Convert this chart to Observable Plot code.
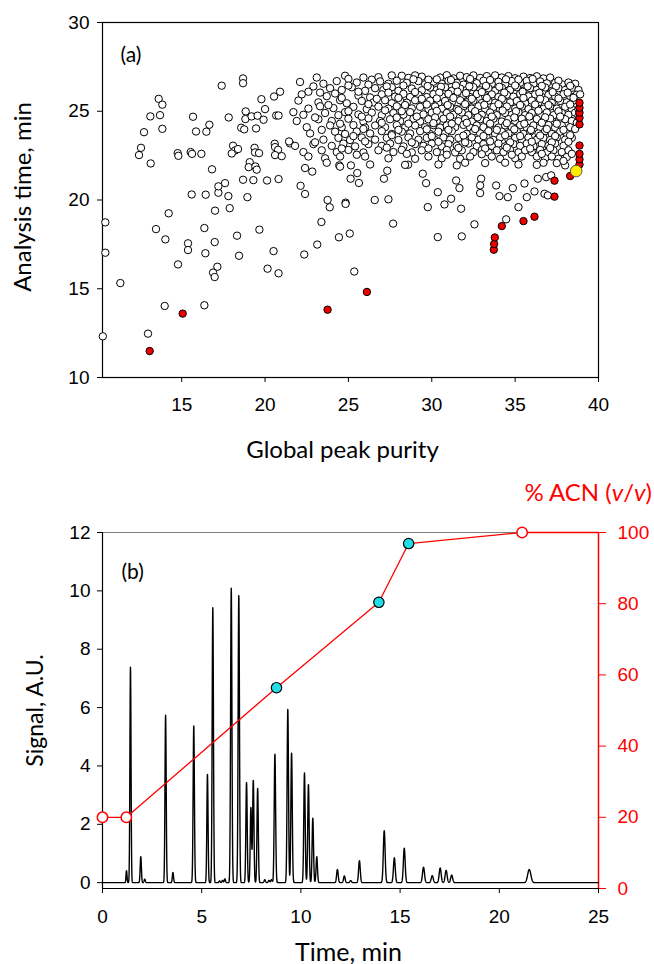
<!DOCTYPE html>
<html><head><meta charset="utf-8">
<script src="https://cdn.jsdelivr.net/npm/d3@7"></script>
<script src="https://cdn.jsdelivr.net/npm/@observablehq/plot@0.6"></script>
<style>body{margin:0;background:#fff;} #wrap{width:654px;} svg{display:block;}</style>
</head><body><div id="wrap"></div>
<script>
// ---------- Panel (a): global peak purity vs analysis time ----------
const sparseLeft = [
[15.6,20.31],[16.44,20.3],[17.2,20.41],[17.8,20.22],[18.94,20.16],[14.22,19.25],[17.0,19.4],[17.88,19.54],[10.42,18.74],[13.46,18.36],[16.36,18.42],[19.66,18.33],[14.02,17.78],[15.38,17.56],[15.38,17.18],[16.98,17.63],[18.32,17.99],[10.42,17.03],[16.42,17.0],[18.44,16.86],[20.51,17.12],[14.78,16.37],[17.14,16.24],[16.88,15.91],[16.98,15.66],[20.15,16.13],[20.81,15.87],[11.32,15.32],[13.98,14.03],[16.36,14.07],[12.98,12.47],[10.27,12.32],
[17.4,26.44],[18.68,26.85],[18.68,26.58],[20.9,26.1],[20.54,25.83],[13.62,25.7],[13.84,25.37],[19.78,25.68],[20.0,25.12],[13.12,24.71],[13.7,24.78],[15.68,24.69],[18.84,24.99],[18.82,24.56],[19.19,24.71],[19.55,24.75],[19.91,24.52],[20.67,24.76],[20.81,24.76],[21.7,24.95],[17.82,24.65],[16.66,24.24],[16.48,23.85],[15.86,23.86],[12.74,23.82],[13.84,24.01],[18.57,24.07],[18.75,23.98],[19.46,24.03],[21.49,23.19],[21.44,23.3],[12.56,22.94],[12.44,22.53],[13.14,22.06],[14.76,22.64],[14.8,22.49],[15.54,22.7],[15.62,22.6],[16.18,22.6],[18.08,23.06],[18.2,22.79],[18.0,22.62],[18.38,22.87],[19.37,22.94],[19.4,22.68],[19.64,22.64],[20.58,23.17],[20.6,22.98],[20.78,22.83],[20.6,22.53],[21.0,22.47],[19.08,22.13],[19.02,21.85],[19.42,21.89],[19.5,21.71],[16.82,21.73],[18.68,21.14],[19.3,21.12],[20.12,21.1],[20.81,21.18],[17.2,20.77],[17.6,20.95]
];
const sparseMid = [
[22.13,20.8],[22.4,20.34],[22.35,16.93],[23.75,20.0],[23.88,19.59],[23.38,18.76],[23.13,17.49],[24.83,19.85],[24.83,19.78],[25.08,18.11],[24.43,17.9],[25.35,15.97],[25.63,20.96],[25.53,21.52],[25.15,21.95],[25.13,21.2],[24.45,21.95],[24.5,21.88],[26.58,20.0],[27.4,20.04],[27.68,18.67],[27.13,21.2],[27.33,21.65],[28.58,21.99],[22.4,21.8],[22.83,21.6],
[29.46,21.48],[29.66,20.95],[30.36,20.44],[29.76,19.6],[30.76,19.75],[31.16,20.07],[31.76,19.51],[31.46,21.1],[31.66,20.67],[32.56,18.63],[30.36,17.91],[31.8,17.95],[32.96,21.2],[32.9,20.82],[32.9,20.39],[33.86,20.82],[34.06,20.22],[34.46,18.91],[34.56,20.16],[34.86,20.67],[35.2,19.6],[35.56,20.93],[35.7,20.16],[36.16,20.48],[36.76,20.35],[36.96,20.26],[36.36,21.2],[36.86,21.29],[37.16,21.39]
];
const denseTop = [
[23.1,26.9],[24.8,27.0],[25.0,26.82],[25.9,26.9],[26.4,26.78],[26.8,26.92],[27.6,27.02],[28.2,27.0],[28.6,26.88],[29.0,27.02],[29.4,26.95],[30.5,26.9],[30.9,27.03],[31.3,26.85],[31.7,27.0],[32.1,26.92],[32.5,27.02],[32.9,26.88],[33.3,26.98],[33.8,27.02],[34.2,26.9],[34.6,26.98],[35.0,26.86],[35.5,26.95],[35.9,26.87],[36.3,26.97],[36.7,26.85],[37.1,26.9],
[22.1,26.65],[23.5,26.55],[24.3,26.7],[25.5,26.62],[26.2,26.5],[26.9,26.68],[27.4,26.55],[27.9,26.72],[28.5,26.6],[29.2,26.7],[29.6,26.52],[30.1,26.66],[30.6,26.55],[31.0,26.72],[31.5,26.6],[31.9,26.5],[32.3,26.68],[32.7,26.58],[33.1,26.72],[33.6,26.55],[34.0,26.66],[34.4,26.52],[34.8,26.7],[35.3,26.6],[35.7,26.72],[36.1,26.55],[36.5,26.68],[36.9,26.57],[37.4,26.6],[37.8,26.52],[38.2,26.62],[38.6,26.55],
[22.6,26.1],[23.9,26.3],[24.6,26.2],[25.2,26.35],[26.0,26.15],[26.6,26.3],[27.1,26.2],[27.6,26.35],[28.0,26.15],[28.8,26.28],[29.4,26.18],[29.9,26.33],[30.3,26.2],[30.8,26.35],[31.2,26.15],[31.7,26.28],[32.1,26.2],[32.5,26.36],[32.9,26.18],[33.4,26.3],[33.8,26.15],[34.2,26.32],[34.7,26.2],[35.1,26.35],[35.5,26.16],[35.9,26.3],[36.3,26.2],[36.8,26.34],[37.2,26.15],[37.6,26.3],[38.0,26.2],[38.4,26.32],[38.8,26.2],
[22.2,25.95],[23.7,25.85],[24.2,26.0],[25.6,25.88],[26.3,25.78],[27.0,25.95],[27.8,25.82],[28.3,25.98],[28.7,25.8],[29.2,25.92],[29.7,25.8],[30.1,25.96],[30.6,25.84],[31.0,25.98],[31.4,25.82],[31.9,25.92],[32.3,25.8],[32.7,25.97],[33.2,25.85],[33.6,25.95],[34.0,25.8],[34.5,25.93],[34.9,25.82],[35.3,25.98],[35.8,25.84],[36.2,25.95],[36.6,25.8],[37.0,25.92],[37.4,25.83],[37.9,25.96],[38.3,25.84],[38.7,25.93],
[22.0,25.6],[23.2,25.5],[24.5,25.62],[24.9,25.45],[25.8,25.58],[26.5,25.5],[27.2,25.62],[27.6,25.45],[28.1,25.58],[28.5,25.48],[29.0,25.62],[29.5,25.5],[29.9,25.6],[30.4,25.45],[30.8,25.58],[31.2,25.48],[31.7,25.62],[32.1,25.5],[32.5,25.6],[33.0,25.46],[33.4,25.6],[33.8,25.48],[34.3,25.62],[34.7,25.5],[35.1,25.58],[35.6,25.45],[36.0,25.6],[36.4,25.5],[36.8,25.62],[37.2,25.47],[37.7,25.58],[38.1,25.5],[38.5,25.6],
[22.6,25.15],[23.3,25.28],[24.1,25.18],[25.3,25.25],[26.1,25.12],[26.8,25.26],[27.4,25.15],[27.9,25.28],[28.8,25.16],[29.3,25.25],[29.8,25.12],[30.2,25.27],[30.6,25.14],[31.1,25.26],[31.5,25.12],[31.9,25.25],[32.4,25.15],[32.8,25.28],[33.2,25.14],[33.7,25.24],[34.1,25.12],[34.5,25.27],[35.0,25.15],[35.4,25.26],[35.8,25.12],[36.2,25.25],[36.7,25.14],[37.1,25.27],[37.5,25.15],[38.0,25.25],[38.4,25.12]
];
const denseBottom = [
[22.3,24.8],[23.6,24.9],[24.4,24.78],[24.8,24.95],[25.6,24.82],[26.4,24.92],[27.0,24.78],[27.7,24.9],[28.3,24.8],[28.7,24.95],[29.5,24.82],[30.0,24.92],[30.5,24.78],[30.9,24.9],[31.3,24.8],[31.8,24.93],[32.2,24.78],[32.6,24.9],[33.0,24.8],[33.5,24.93],[33.9,24.78],[34.4,24.9],[34.8,24.8],[35.2,24.94],[35.6,24.78],[36.0,24.9],[36.5,24.8],[36.9,24.93],[37.3,24.78],[37.8,24.9],[38.2,24.8],[38.6,24.92],
[21.9,24.45],[23.2,24.55],[24.0,24.45],[25.0,24.58],[25.9,24.42],[26.2,24.6],[26.9,24.45],[27.5,24.55],[28.1,24.44],[28.9,24.58],[29.3,24.42],[29.8,24.55],[30.3,24.45],[30.7,24.58],[31.6,24.44],[32.0,24.56],[32.4,24.42],[32.9,24.55],[33.3,24.45],[33.7,24.58],[34.2,24.42],[34.6,24.55],[35.0,24.45],[35.4,24.58],[35.9,24.42],[36.3,24.56],[36.7,24.45],[37.1,24.58],[37.6,24.44],[38.0,24.55],[38.4,24.45],
[22.5,24.1],[23.9,24.2],[24.6,24.1],[25.3,24.22],[26.0,24.08],[26.6,24.2],[27.2,24.1],[27.9,24.22],[28.4,24.08],[29.0,24.2],[29.6,24.1],[30.1,24.22],[30.5,24.08],[30.9,24.2],[31.4,24.1],[31.9,24.23],[32.3,24.08],[32.7,24.2],[33.1,24.1],[33.5,24.22],[34.0,24.08],[34.4,24.2],[34.8,24.1],[35.3,24.22],[35.7,24.08],[36.1,24.2],[36.5,24.1],[37.0,24.22],[37.4,24.08],[37.8,24.2],[38.3,24.1],
[22.7,23.75],[24.2,23.85],[24.8,23.72],[25.5,23.86],[26.3,23.75],[27.0,23.88],[27.6,23.72],[28.2,23.85],[28.7,23.75],[29.3,23.88],[29.9,23.72],[30.4,23.85],[30.8,23.75],[31.2,23.88],[32.1,23.72],[32.5,23.85],[32.9,23.75],[33.4,23.88],[33.8,23.72],[34.2,23.85],[34.6,23.75],[35.1,23.88],[35.5,23.72],[35.9,23.85],[36.4,23.75],[36.8,23.88],[37.2,23.72],[37.7,23.85],[38.1,23.75],
[23.5,23.4],[24.4,23.5],[25.1,23.38],[25.8,23.52],[26.6,23.4],[27.3,23.5],[28.0,23.38],[28.6,23.52],[29.2,23.4],[29.7,23.5],[30.2,23.38],[30.7,23.52],[31.1,23.4],[31.6,23.5],[32.0,23.38],[32.4,23.52],[32.8,23.4],[33.3,23.5],[33.7,23.38],[34.1,23.52],[34.6,23.4],[35.0,23.5],[35.4,23.38],[35.8,23.52],[36.3,23.4],[36.7,23.5],[37.1,23.38],[37.5,23.52],[38.0,23.4],[38.4,23.5],
[21.8,23.05],[22.9,23.15],[24.0,23.05],[24.7,23.18],[25.4,23.02],[26.2,23.15],[27.0,23.05],[27.5,23.18],[28.3,23.02],[29.0,23.15],[29.5,23.05],[30.0,23.18],[30.6,23.02],[31.0,23.15],[31.5,23.05],[32.2,23.18],[32.7,23.02],[33.1,23.15],[33.6,23.05],[34.0,23.18],[34.4,23.02],[34.9,23.15],[35.3,23.05],[35.7,23.18],[36.1,23.02],[36.6,23.15],[37.0,23.05],[37.4,23.18],[37.9,23.05],
[22.3,22.7],[23.4,22.8],[24.3,22.7],[25.0,22.82],[25.9,22.68],[26.8,22.8],[27.7,22.7],[28.2,22.82],[28.8,22.68],[29.4,22.8],[30.3,22.7],[30.9,22.82],[31.4,22.68],[31.8,22.8],[32.5,22.7],[33.0,22.82],[33.4,22.68],[33.9,22.8],[34.3,22.7],[34.7,22.82],[35.2,22.68],[35.6,22.8],[36.0,22.7],[36.5,22.82],[36.9,22.68],[37.3,22.8],[37.8,22.7],[38.2,22.8],
[22.6,22.45],[23.6,22.35],[24.5,22.45],[26.0,22.45],[27.4,22.35],[29.0,22.32],[29.8,22.45],[30.6,22.35],[31.7,22.32],[32.3,22.45],[33.6,22.45],[34.1,22.32],[35.0,22.35],[35.4,22.45],[36.3,22.45],[36.8,22.35],[37.2,22.45],[37.6,22.32],[38.1,22.42],
[23.7,22.1],[26.3,22.0],[28.4,21.98],[30.4,22.0],[31.5,21.95],[32.0,22.1],[33.2,22.08],[34.4,22.1],[35.2,22.0],[36.3,21.98],[36.7,22.1],[37.5,22.08],[38.0,21.95]
];
const denseFill = [
[28.9,26.8],[29.8,26.78],[30.3,26.8],[31.15,26.76],[32.3,26.82],[33.5,26.76],[34.45,26.8],[35.2,26.78],[36.05,26.82],[37.6,26.72],
[22.9,26.4],[25.0,26.45],[27.3,26.4],[28.3,26.45],[29.75,26.42],[30.55,26.38],[31.45,26.45],[32.25,26.4],[33.25,26.43],[34.05,26.38],[35.0,26.45],[35.75,26.4],[36.6,26.43],[37.45,26.4],[38.3,26.43],
[23.3,26.05],[25.6,26.1],[27.4,26.05],[29.0,26.08],[30.45,26.05],[31.55,26.1],[32.05,26.02],[33.0,26.08],[34.35,26.05],[35.45,26.1],[36.45,26.04],[37.25,26.08],[38.15,26.05],[38.9,25.95],
[24.6,25.75],[26.7,25.7],[28.0,25.75],[29.4,25.7],[30.3,25.72],[31.3,25.75],[32.4,25.7],[33.3,25.74],[34.2,25.7],[35.5,25.75],[36.5,25.7],[37.6,25.72],[38.5,25.76],
[23.8,25.35],[26.2,25.4],[28.4,25.35],[29.7,25.38],[30.95,25.35],[32.0,25.4],[33.15,25.36],[34.0,25.4],[35.3,25.35],[36.2,25.38],[37.0,25.35],[38.3,25.38],[38.8,25.1],
[25.0,25.0],[27.2,25.05],[28.2,25.0],[30.3,25.02],[31.6,25.05],[32.6,25.0],[34.25,25.04],[35.05,25.0],[36.4,25.03],[37.6,25.0],[38.8,24.75],
[23.0,24.65],[25.8,24.7],[27.9,24.65],[29.1,24.7],[30.2,24.65],[31.1,24.7],[32.75,24.66],[33.6,24.7],[34.95,24.65],[35.85,24.7],[36.8,24.66],[37.7,24.7],[38.7,24.35],
[24.5,24.3],[27.0,24.35],[28.6,24.3],[30.1,24.33],[31.2,24.3],[32.1,24.35],[33.5,24.3],[34.5,24.33],[35.55,24.3],[36.6,24.35],[37.5,24.3],[38.6,24.0],
[23.4,23.95],[25.9,24.0],[28.0,23.95],[29.7,23.98],[31.0,23.95],[32.6,24.0],[33.9,23.95],[34.95,23.98],[35.95,23.95],[36.9,24.0],[37.9,23.95],
[25.3,23.6],[27.6,23.65],[30.0,23.6],[31.9,23.63],[33.1,23.6],[34.4,23.65],[35.3,23.6],[36.5,23.63],[37.4,23.6],[38.3,23.65],
[23.0,23.25],[26.0,23.3],[28.8,23.25],[30.4,23.28],[32.0,23.25],[33.5,23.3],[34.7,23.25],[36.0,23.28],[37.2,23.25],[38.2,23.28],
[24.6,22.9],[27.3,22.95],[29.8,22.9],[31.6,22.93],[33.2,22.9],[34.5,22.95],[35.9,22.9],[37.1,22.93],[38.4,22.6],
[25.5,22.55],[28.5,22.6],[30.9,22.55],[33.0,22.58],[34.8,22.55],[36.6,22.6],[37.9,22.2]
];
const redPts = [
[13.08,11.49],[15.06,13.6],[23.75,13.82],[26.11,14.82],[33.72,17.2],[33.74,17.52],[33.78,17.89],[34.2,18.53],[35.5,18.81],[36.16,19.06],[37.36,20.19],[37.36,21.09],[38.3,21.35],[38.86,22.0],[38.86,22.29],[38.86,22.6],[38.86,23.07],[38.86,24.26],[38.86,24.63],[38.86,24.92],[38.86,25.2],[38.86,25.48]
];
const yellowPt = [[38.66,21.63]];
const xTicksA = [15,20,25,30,35,40];
const yTicksA = [10,15,20,25,30];

// ---------- Panel (b): chromatogram and gradient ----------
const peakTimes   = [1.21,1.41,1.93,2.13,3.18,3.55,4.60,5.29,5.56,5.90,6.05,6.17,6.49,6.87,7.26,7.48,7.60,7.82,8.18,8.39,8.52,8.69,9.34,9.53,10.18,10.38,10.60,10.80,11.84,12.19,12.51,12.95,14.20,14.71,15.21,16.18,16.62,17.02,17.32,17.60,21.51];
const peakHeights = [0.41,7.38,0.89,0.12,5.74,0.35,5.37,3.71,9.42,0.06,0.08,0.13,10.09,9.83,3.43,2.57,3.50,3.23,0.10,0.08,0.10,4.40,5.94,4.44,3.76,3.36,2.21,0.89,0.45,0.23,0.07,0.75,1.78,0.85,1.18,0.53,0.24,0.50,0.42,0.26,0.45];
const peakWidths  = [0.025,0.028,0.03,0.03,0.03,0.03,0.032,0.03,0.032,0.03,0.03,0.03,0.033,0.033,0.033,0.033,0.033,0.033,0.035,0.035,0.035,0.035,0.035,0.035,0.035,0.035,0.035,0.035,0.04,0.04,0.04,0.042,0.045,0.045,0.045,0.05,0.05,0.05,0.05,0.05,0.08];
const gradTime = [0, 1.2, 8.77, 13.93, 15.43, 21.15, 25];
const gradACN  = [20, 20, 56.4, 80.4, 96.9, 100, 100];
const gradMark = ["open","open","fill","fill","fill","open","none"];
const xTicksB = [0,5,10,15,20,25];
const yTicksB = [0,2,4,6,8,10,12];
const acnTicks = [0,20,40,60,80,100];

const toObj = arr => arr.map(([p,t]) => ({p,t}));
const whitePts = toObj([...sparseLeft, ...sparseMid, ...denseTop, ...denseBottom, ...denseFill]);

const tickFont = "Liberation Sans, Arial, sans-serif";
const titleFont = "Lato, 'Open Sans', sans-serif";

const plotA = Plot.plot({
  width: 654, height: 470,
  marginLeft: 102, marginRight: 56, marginTop: 22, marginBottom: 93,
  x: {domain: [10.25, 40]},
  y: {domain: [10, 30]},
  style: {fontFamily: tickFont, fontSize: "19px", background: "white", color: "black", overflow: "visible"},
  marks: [
    Plot.frame({stroke: "black", strokeWidth: 1.2}),
    Plot.axisX({ticks: xTicksA, tickSize: 5, tickPadding: 15, label: null, fontSize: 19}),
    Plot.axisY({ticks: yTicksA, tickSize: 5, tickPadding: 8, label: null, fontSize: 19}),
    Plot.dot(whitePts, {x: "p", y: "t", r: 3.7, fill: "white", stroke: "black", strokeWidth: 1}),
    Plot.dot(toObj(redPts), {x: "p", y: "t", r: 3.7, fill: "#ee0000", stroke: "black", strokeWidth: 1}),
    Plot.dot(toObj(yellowPt), {x: "p", y: "t", r: 5.8, fill: "#ffee00", stroke: "#555", strokeWidth: 1}),
    Plot.text(["(a)"], {frameAnchor: "top-left", textAnchor: "start", lineAnchor: "middle", dx: 18, dy: 33, fontSize: 21, fontFamily: titleFont}),
    Plot.text(["Global peak purity"], {frameAnchor: "bottom", textAnchor: "middle", lineAnchor: "middle", dx: -8, dy: 73, fontSize: 24, fontFamily: titleFont}),
    Plot.text(["Analysis time, min"], {frameAnchor: "left", rotate: -90, textAnchor: "middle", lineAnchor: "middle", dx: -79, dy: -3, fontSize: 24, fontFamily: titleFont})
  ]
});

// chromatogram trace built from the peak table
const ts = [];
for (let i = 0; i <= 5000; i++) ts.push(i * 0.005);
peakTimes.forEach(t => ts.push(t));
ts.sort((a, b) => a - b);
const chrom = ts.map(t => ({t, s: peakTimes.reduce((acc, c, i) => acc + peakHeights[i] * Math.exp(-0.5 * ((t - c) / peakWidths[i]) ** 2), 0)}));

const toY = a => -0.2 + a * 0.122;   // % ACN mapped onto the signal axis
const grad = gradTime.map((t, i) => ({t, y: toY(gradACN[i]), m: gradMark[i]}));

const plotB = Plot.plot({
  width: 654, height: 494,
  marginLeft: 102, marginRight: 56, marginTop: 62, marginBottom: 76,
  x: {domain: [0, 25]},
  y: {domain: [-0.2, 12]},
  style: {fontFamily: tickFont, fontSize: "19px", background: "white", color: "black", overflow: "visible"},
  marks: [
    Plot.ruleY([12], {stroke: "#808080", strokeWidth: 1.2}),
    Plot.ruleX([0], {stroke: "black", strokeWidth: 1.2}),
    Plot.ruleY([-0.2], {stroke: "black", strokeWidth: 1.2}),
    Plot.ruleX([25], {stroke: "red", strokeWidth: 1.5}),
    Plot.axisX({ticks: xTicksB, tickSize: 5, tickPadding: 16, label: null, fontSize: 19}),
    Plot.axisY({ticks: yTicksB, tickSize: 5, tickPadding: 7, label: null, fontSize: 19}),
    Plot.axisY(acnTicks.map(toY), {anchor: "right", color: "red", tickSize: 7, tickPadding: 12, label: null, fontSize: 19,
      tickFormat: d => String(Math.round((d + 0.2) / 0.122))}),
    Plot.line(chrom, {x: "t", y: "s", stroke: "black", strokeWidth: 1.4}),
    Plot.line(grad, {x: "t", y: "y", stroke: "red", strokeWidth: 1.3}),
    Plot.dot(grad.filter(d => d.m === "open"), {x: "t", y: "y", r: 5.2, fill: "white", stroke: "red", strokeWidth: 1.5}),
    Plot.dot(grad.filter(d => d.m === "fill"), {x: "t", y: "y", r: 5.2, fill: "#22dde6", stroke: "black", strokeWidth: 1.2}),
    Plot.text(["(b)"], {frameAnchor: "top-left", textAnchor: "start", lineAnchor: "middle", dx: 19, dy: 40, fontSize: 21, fontFamily: titleFont}),
    Plot.text(["Time, min"], {frameAnchor: "bottom", textAnchor: "middle", lineAnchor: "middle", dx: -2, dy: 64, fontSize: 25, fontFamily: titleFont}),
    Plot.text(["Signal, A.U."], {frameAnchor: "left", rotate: -90, textAnchor: "middle", lineAnchor: "middle", dx: -67, fontSize: 23, fontFamily: titleFont})
  ]
});

const wrap = document.getElementById("wrap");
wrap.appendChild(plotA);
wrap.appendChild(plotB);

// right-axis title with italic v/v
const lab = d3.select(plotB).append("text")
  .attr("x", 652).attr("y", 31).attr("text-anchor", "end")
  .attr("fill", "red").attr("font-size", 24).attr("font-family", titleFont);
lab.append("tspan").text("% ACN (");
lab.append("tspan").attr("font-style", "italic").text("v");
lab.append("tspan").text("/");
lab.append("tspan").attr("font-style", "italic").text("v");
lab.append("tspan").text(")");
</script></body></html>
